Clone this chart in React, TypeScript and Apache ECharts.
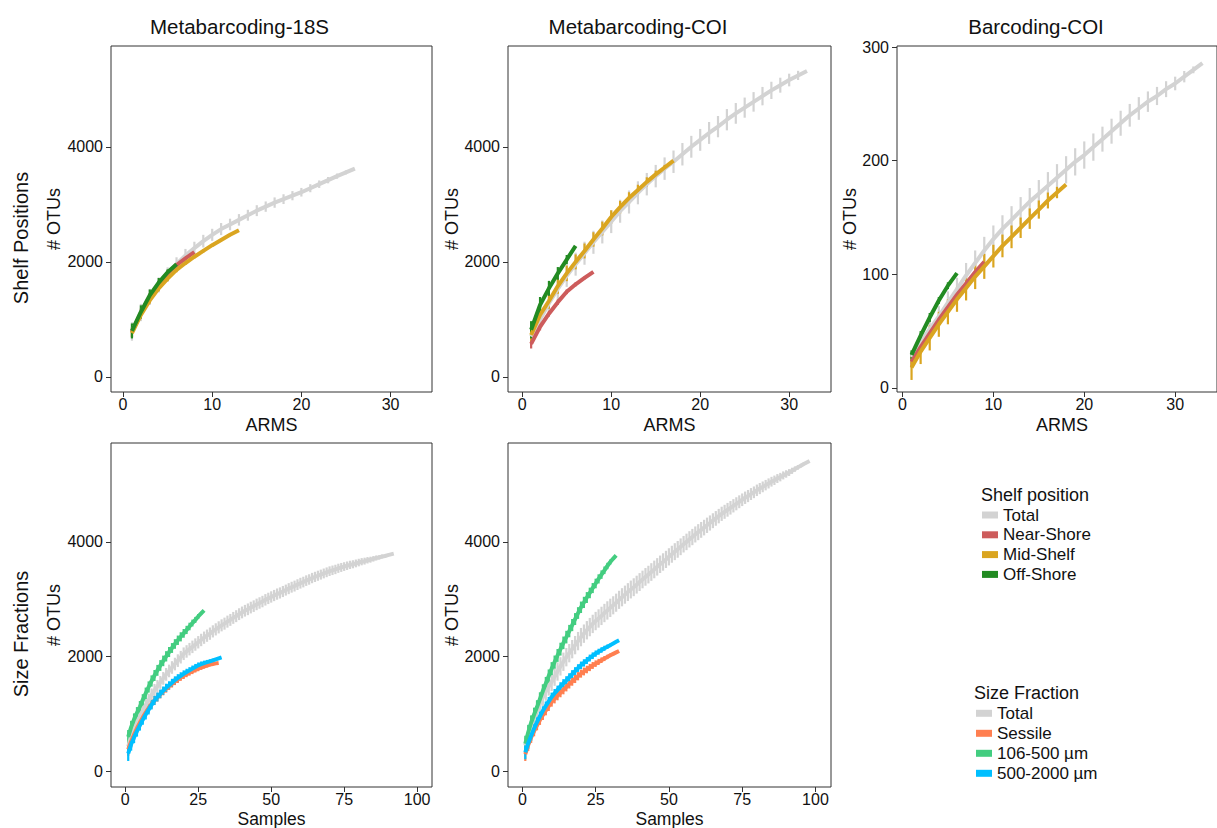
import React, { useEffect, useRef } from "react";
import * as echarts from "echarts";

// ---------- colours ----------
const C_TOTAL = "#D3D3D3";
const C_NEAR = "#CD5C5C";
const C_MID = "#DAA520";
const C_OFF = "#228B22";
const C_SESSILE = "#FF7F50";
const C_SMALL = "#43CD80";
const C_LARGE = "#00BFFF";

// ---------- labels ----------
const panelTitles = ["Metabarcoding-18S", "Metabarcoding-COI", "Barcoding-COI"];
const rowLabels = ["Shelf Positions", "Size Fractions"];
const shelfLegend = ["Total", "Near-Shore", "Mid-Shelf", "Off-Shore"];
const sizeLegend = ["Total", "Sessile", "106-500 µm", "500-2000 µm"];

// ---------- tick values ----------
const armsTicks = [0, 10, 20, 30];
const sampleTicks = [0, 25, 50, 75, 100];
const otuTicks = [0, 2000, 4000];
const barcodeTicks = [0, 100, 200, 300];

// ---------- Panel 1: Metabarcoding-18S, ARMS (x = 1..n) ----------
const total18S = [790, 1120, 1390, 1600, 1780, 1960, 2110, 2240, 2360, 2470, 2570, 2650, 2730, 2810, 2890, 2960, 3030, 3090, 3150, 3210, 3280, 3350, 3420, 3490, 3555, 3620];
const total18SErr = [160, 150, 140, 130, 125, 120, 115, 110, 110, 105, 105, 100, 100, 95, 95, 90, 90, 85, 80, 75, 70, 65, 55, 45, 35, 0];
const near18S = [780, 1110, 1390, 1610, 1800, 1945, 2060, 2170];
const near18SErr = [90, 80, 70, 60, 50, 40, 25, 0];
const mid18S = [760, 1080, 1330, 1540, 1710, 1860, 1980, 2090, 2190, 2290, 2380, 2470, 2550];
const mid18SErr = [70, 60, 55, 50, 45, 40, 35, 30, 28, 25, 20, 15, 0];
const off18S = [800, 1130, 1420, 1640, 1820, 1960];
const off18SErr = [130, 115, 100, 80, 50, 0];

// ---------- Panel 2: Metabarcoding-COI, ARMS ----------
const totalCOI = [700, 1000, 1280, 1530, 1760, 1960, 2150, 2340, 2520, 2700, 2880, 3040, 3200, 3350, 3490, 3620, 3740, 3870, 4000, 4120, 4240, 4350, 4470, 4580, 4680, 4780, 4880, 4980, 5070, 5160, 5240, 5316];
const totalCOIErr = [150, 170, 180, 190, 195, 200, 200, 200, 200, 200, 200, 200, 200, 195, 195, 195, 195, 195, 190, 190, 190, 185, 185, 180, 175, 170, 160, 150, 130, 110, 80, 0];
const nearCOI = [575, 870, 1100, 1300, 1480, 1610, 1720, 1826];
const nearCOIErr = [80, 60, 50, 45, 40, 35, 25, 0];
const midCOI = [730, 1080, 1320, 1580, 1800, 2000, 2190, 2390, 2580, 2780, 2950, 3110, 3250, 3390, 3520, 3640, 3760];
const midCOIErr = [120, 130, 135, 135, 135, 130, 130, 125, 120, 115, 110, 100, 90, 80, 65, 45, 0];
const offCOI = [820, 1250, 1540, 1800, 2040, 2278];
const offCOIErr = [150, 140, 130, 110, 80, 0];

// ---------- Panel 3: Barcoding-COI, ARMS ----------
const totalBar = [27, 40, 52, 63, 75, 87, 99, 110, 121, 131, 140, 148, 156, 164, 171, 178, 185, 192, 199, 205, 212, 219, 226, 233, 240, 246, 252, 257, 263, 268, 274, 280, 286];
const totalBarErr = [6, 7, 8, 9, 10, 10, 11, 11, 12, 12, 12, 12, 12, 12, 12, 12, 12, 12, 12, 12, 12, 11, 11, 11, 10, 10, 9, 8, 7, 6, 5, 3, 0];
const nearBar = [23, 36, 48, 60, 71, 82, 92, 102, 111];
const nearBarErr = [5, 5, 4, 4, 4, 3, 3, 2, 0];
const midBar = [18, 32, 44, 56, 67, 78, 88, 98, 107, 116, 125, 133, 141, 149, 157, 165, 172, 179];
const midBarErr = [11, 11, 11, 11, 11, 11, 11, 11, 11, 10, 10, 10, 9, 9, 8, 7, 5, 0];
const offBar = [29, 46, 62, 77, 90, 101];
const offBarErr = [4, 4, 4, 3, 3, 0];

// ---------- Panel 4: Metabarcoding-18S, Samples ----------
const sTotal18S = [430, 610, 740, 860, 960, 1060, 1150, 1240, 1330, 1410, 1480, 1550, 1620, 1690, 1750, 1810, 1870, 1930, 1990, 2050, 2090, 2130, 2170, 2210, 2250, 2290, 2330, 2365, 2400, 2440, 2475, 2510, 2545, 2575, 2610, 2640, 2675, 2705, 2740, 2770, 2800, 2825, 2855, 2880, 2910, 2935, 2960, 2990, 3015, 3040, 3065, 3090, 3110, 3135, 3160, 3185, 3210, 3230, 3255, 3280, 3300, 3325, 3345, 3370, 3390, 3410, 3430, 3450, 3470, 3490, 3505, 3520, 3540, 3555, 3570, 3585, 3600, 3610, 3625, 3640, 3655, 3665, 3680, 3690, 3705, 3720, 3730, 3745, 3755, 3770, 3783, 3796];
const sTotal18SErr = [150, 140, 130, 125, 120, 118, 116, 115, 114, 113, 112, 112, 111, 111, 110, 110, 110, 110, 110, 110, 109, 109, 109, 108, 108, 108, 107, 107, 107, 106, 106, 106, 105, 105, 105, 104, 104, 104, 103, 103, 102, 102, 102, 101, 101, 100, 100, 100, 99, 99, 98, 98, 97, 97, 96, 96, 95, 95, 94, 94, 93, 92, 91, 90, 89, 88, 87, 86, 85, 84, 83, 82, 80, 78, 76, 74, 72, 70, 68, 66, 63, 60, 56, 52, 48, 44, 39, 34, 28, 21, 12, 0];
const sSessile18S = [380, 520, 640, 750, 850, 940, 1025, 1100, 1170, 1235, 1290, 1345, 1395, 1440, 1485, 1525, 1565, 1600, 1635, 1665, 1695, 1720, 1745, 1770, 1790, 1810, 1828, 1845, 1860, 1872, 1882, 1889];
const sSessile18SErr = [110, 100, 95, 90, 86, 84, 82, 80, 78, 76, 74, 72, 70, 68, 66, 64, 62, 60, 58, 56, 54, 52, 50, 48, 45, 42, 38, 34, 29, 22, 13, 0];
const sSmall18S = [600, 770, 905, 1020, 1125, 1245, 1360, 1470, 1575, 1670, 1760, 1845, 1925, 2005, 2080, 2150, 2220, 2285, 2345, 2405, 2465, 2525, 2585, 2640, 2700, 2755, 2807];
const sSmall18SErr = [120, 110, 105, 100, 100, 100, 100, 98, 98, 96, 95, 94, 92, 90, 88, 86, 84, 82, 80, 76, 72, 66, 60, 52, 42, 28, 0];
const sLarge18S = [310, 470, 590, 700, 800, 900, 990, 1075, 1160, 1235, 1295, 1350, 1405, 1455, 1500, 1545, 1590, 1630, 1665, 1700, 1730, 1760, 1790, 1820, 1848, 1868, 1885, 1902, 1918, 1935, 1952, 1968, 1985];
const sLarge18SErr = [130, 110, 100, 95, 90, 88, 86, 84, 82, 80, 78, 76, 74, 72, 70, 68, 66, 64, 62, 60, 58, 56, 54, 52, 50, 47, 44, 40, 35, 29, 22, 13, 0];

// ---------- Panel 5: Metabarcoding-COI, Samples ----------
const sTotalCOI = [450, 650, 810, 940, 1060, 1180, 1290, 1390, 1480, 1560, 1650, 1740, 1830, 1910, 1990, 2060, 2130, 2200, 2270, 2340, 2400, 2460, 2515, 2570, 2620, 2665, 2710, 2760, 2805, 2850, 2895, 2940, 2990, 3035, 3080, 3125, 3170, 3210, 3255, 3300, 3345, 3390, 3430, 3475, 3520, 3565, 3610, 3650, 3695, 3740, 3785, 3830, 3870, 3915, 3960, 4000, 4045, 4085, 4130, 4170, 4210, 4250, 4290, 4330, 4370, 4410, 4450, 4490, 4525, 4560, 4595, 4630, 4665, 4700, 4735, 4770, 4800, 4835, 4865, 4900, 4930, 4960, 4990, 5020, 5050, 5075, 5105, 5130, 5160, 5185, 5210, 5240, 5270, 5300, 5330, 5360, 5385, 5411];
const sTotalCOIErr = [140, 150, 155, 160, 160, 160, 160, 160, 160, 160, 160, 160, 160, 160, 160, 160, 160, 160, 160, 160, 160, 160, 160, 160, 160, 160, 160, 160, 160, 160, 158, 158, 158, 158, 158, 156, 156, 156, 156, 156, 154, 154, 154, 154, 154, 152, 152, 152, 150, 150, 148, 148, 146, 146, 144, 144, 142, 142, 140, 140, 138, 136, 134, 132, 130, 128, 126, 124, 122, 120, 118, 116, 114, 112, 110, 108, 106, 104, 102, 100, 97, 94, 91, 88, 85, 82, 78, 74, 70, 65, 60, 54, 47, 40, 32, 23, 12, 0];
const sSessileCOI = [300, 460, 590, 700, 802, 895, 980, 1060, 1135, 1209, 1265, 1318, 1370, 1420, 1470, 1520, 1567, 1613, 1658, 1703, 1740, 1775, 1810, 1845, 1877, 1907, 1937, 1966, 1995, 2023, 2048, 2073, 2098];
const sSessileCOIErr = [120, 105, 95, 90, 88, 86, 85, 84, 83, 82, 81, 80, 79, 78, 77, 76, 75, 74, 72, 70, 68, 66, 63, 60, 57, 53, 49, 44, 38, 31, 23, 13, 0];
const sSmallCOI = [480, 680, 850, 990, 1120, 1260, 1400, 1530, 1660, 1790, 1905, 2020, 2130, 2240, 2340, 2445, 2550, 2655, 2760, 2860, 2945, 3030, 3110, 3195, 3275, 3355, 3430, 3505, 3580, 3650, 3710, 3766];
const sSmallCOIErr = [140, 130, 125, 120, 120, 118, 118, 116, 116, 114, 114, 112, 112, 110, 110, 108, 106, 104, 102, 100, 98, 95, 92, 88, 84, 80, 74, 66, 56, 44, 28, 0];
const sLargeCOI = [330, 490, 620, 745, 860, 960, 1055, 1140, 1220, 1296, 1360, 1420, 1480, 1535, 1587, 1640, 1695, 1748, 1800, 1848, 1890, 1932, 1975, 2015, 2052, 2085, 2115, 2145, 2172, 2200, 2230, 2258, 2284];
const sLargeCOIErr = [120, 100, 90, 85, 82, 80, 78, 78, 76, 76, 75, 74, 73, 72, 71, 70, 69, 68, 67, 66, 64, 62, 60, 58, 55, 52, 48, 44, 38, 31, 23, 13, 0];

const FONT = '"Liberation Sans", Arial, Helvetica, sans-serif';

function curve(panel: number, name: string, mean: number[], err: number[], color: string, barW: number) {
  const pts = mean.map((v, i) => [i + 1, v]);
  const bars = mean.map((v, i) => [i + 1, v - err[i], v + err[i]]);
  return [
    {
      type: "custom",
      name,
      xAxisIndex: panel,
      yAxisIndex: panel,
      data: bars,
      encode: { x: 0, y: [1, 2] },
      silent: true,
      renderItem: (_p: any, api: any) => {
        const a = api.coord([api.value(0), api.value(1)]);
        const b = api.coord([api.value(0), api.value(2)]);
        return {
          type: "line",
          shape: { x1: a[0], y1: a[1], x2: b[0], y2: b[1] },
          style: { stroke: color, lineWidth: barW },
        };
      },
    },
    {
      type: "line",
      name,
      xAxisIndex: panel,
      yAxisIndex: panel,
      data: pts,
      symbol: "none",
      showSymbol: false,
      silent: true,
      lineStyle: { color, width: 4, join: "round" },
      itemStyle: { color },
    },
  ];
}

const plain = (v: number) => String(v);

function xAxis(grid: number, min: number, max: number, ticks: number[]) {
  return {
    type: "value",
    gridIndex: grid,
    position: "bottom",
    min,
    max,
    axisLine: { show: false, onZero: false },
    splitLine: { show: false },
    axisTick: { show: true, length: 5, customValues: ticks, lineStyle: { color: "#333", width: 1 } },
    axisLabel: { customValues: ticks, formatter: plain, fontSize: 16, color: "#111", fontFamily: FONT, margin: 4 },
  };
}
function yAxis(grid: number, min: number, max: number, ticks: number[]) {
  return {
    type: "value",
    gridIndex: grid,
    position: "left",
    min,
    max,
    axisLine: { show: false, onZero: false },
    splitLine: { show: false },
    axisTick: { show: true, length: 5, customValues: ticks, lineStyle: { color: "#333", width: 1 } },
    axisLabel: { customValues: ticks, formatter: plain, fontSize: 16, color: "#111", fontFamily: FONT, margin: 8 },
  };
}

function txt(x: number, y: number, text: string, size: number, rot = 0, align = "center") {
  return {
    type: "text",
    x,
    y,
    rotation: rot,
    silent: true,
    style: { text, fontSize: size, fontFamily: FONT, fill: "#111", align, verticalAlign: "middle" },
  };
}

export default function App() {
  const ref = useRef<HTMLDivElement>(null);
  useEffect(() => {
    if (!ref.current) return;
    const chart = echarts.init(ref.current, undefined, { renderer: "svg" });
    const gridStyle = { show: true, borderColor: "#333", borderWidth: 1, backgroundColor: "#fff" };
    const series: any[] = [
      ...curve(0, shelfLegend[0], total18S, total18SErr, C_TOTAL, 2.2),
      ...curve(0, shelfLegend[1], near18S, near18SErr, C_NEAR, 2.2),
      ...curve(0, shelfLegend[2], mid18S, mid18SErr, C_MID, 2.2),
      ...curve(0, shelfLegend[3], off18S, off18SErr, C_OFF, 2.2),
      ...curve(1, shelfLegend[0], totalCOI, totalCOIErr, C_TOTAL, 2.2),
      ...curve(1, shelfLegend[1], nearCOI, nearCOIErr, C_NEAR, 2.2),
      ...curve(1, shelfLegend[2], midCOI, midCOIErr, C_MID, 2.2),
      ...curve(1, shelfLegend[3], offCOI, offCOIErr, C_OFF, 2.2),
      ...curve(2, shelfLegend[0], totalBar, totalBarErr, C_TOTAL, 2.2),
      ...curve(2, shelfLegend[1], nearBar, nearBarErr, C_NEAR, 2.2),
      ...curve(2, shelfLegend[2], midBar, midBarErr, C_MID, 2.2),
      ...curve(2, shelfLegend[3], offBar, offBarErr, C_OFF, 2.2),
      ...curve(3, sizeLegend[0], sTotal18S, sTotal18SErr, C_TOTAL, 2.2),
      ...curve(3, sizeLegend[1], sSessile18S, sSessile18SErr, C_SESSILE, 2.2),
      ...curve(3, sizeLegend[2], sSmall18S, sSmall18SErr, C_SMALL, 2.2),
      ...curve(3, sizeLegend[3], sLarge18S, sLarge18SErr, C_LARGE, 2.2),
      ...curve(4, sizeLegend[0], sTotalCOI, sTotalCOIErr, C_TOTAL, 2.2),
      ...curve(4, sizeLegend[1], sSessileCOI, sSessileCOIErr, C_SESSILE, 2.2),
      ...curve(4, sizeLegend[2], sSmallCOI, sSmallCOIErr, C_SMALL, 2.2),
      ...curve(4, sizeLegend[3], sLargeCOI, sLargeCOIErr, C_LARGE, 2.2),
    ];

    const shelfColors = [C_TOTAL, C_NEAR, C_MID, C_OFF];
    const sizeColors = [C_TOTAL, C_SESSILE, C_SMALL, C_LARGE];
    const legendEls: any[] = [txt(981, 495, "Shelf position", 18, 0, "left")];
    shelfLegend.forEach((n, i) => {
      const cy = 515 + i * 19.8;
      legendEls.push({ type: "rect", silent: true, shape: { x: 982, y: cy - 3.5, width: 16, height: 7 }, style: { fill: shelfColors[i] } });
      legendEls.push(txt(1003, cy, n, 17, 0, "left"));
    });
    legendEls.push(txt(974, 693, "Size Fraction", 18, 0, "left"));
    sizeLegend.forEach((n, i) => {
      const cy = 713.3 + i * 20;
      legendEls.push({ type: "rect", silent: true, shape: { x: 976, y: cy - 3.5, width: 16, height: 7 }, style: { fill: sizeColors[i] } });
      legendEls.push(txt(997, cy, n, 17, 0, "left"));
    });

    const R = Math.PI / 2;
    chart.setOption({
      animation: false,
      backgroundColor: "#fff",
      textStyle: { fontFamily: FONT },
      grid: [
        { left: 111, top: 46, width: 321, height: 346, ...gridStyle },
        { left: 508, top: 46, width: 323, height: 346, ...gridStyle },
        { left: 897, top: 46, width: 331, height: 346, ...gridStyle },
        { left: 111, top: 443, width: 321, height: 344, ...gridStyle },
        { left: 508, top: 443, width: 323, height: 344, ...gridStyle },
      ],
      xAxis: [
        xAxis(0, -1.35, 34.65, armsTicks),
        xAxis(1, -1.6, 34.7, armsTicks),
        xAxis(2, -0.6, 34.6, armsTicks),
        xAxis(3, -4.9, 105.1, sampleTicks),
        xAxis(4, -4.9, 105.3, sampleTicks),
      ],
      yAxis: [
        yAxis(0, -261, 5751, otuTicks),
        yAxis(1, -261, 5751, otuTicks),
        yAxis(2, -3.6, 301, barcodeTicks),
        yAxis(3, -274, 5725, otuTicks),
        yAxis(4, -274, 5725, otuTicks),
      ],
      series,
      graphic: [
        txt(239.5, 26, panelTitles[0], 20.5),
        txt(638, 26, panelTitles[1], 20.5),
        txt(1036, 26, panelTitles[2], 20.5),
        txt(21, 238, rowLabels[0], 20, R),
        txt(21, 634, rowLabels[1], 20, R),
        txt(54, 219, "# OTUs", 18, R),
        txt(452, 219, "# OTUs", 18, R),
        txt(850, 219, "# OTUs", 18, R),
        txt(54, 615, "# OTUs", 18, R),
        txt(452, 615, "# OTUs", 18, R),
        txt(271.5, 425, "ARMS", 18),
        txt(669.5, 425, "ARMS", 18),
        txt(1062, 425, "ARMS", 18),
        txt(271.5, 819, "Samples", 17.5),
        txt(669.5, 819, "Samples", 17.5),
        ...legendEls,
      ],
    });
    return () => chart.dispose();
  }, []);
  return (
    <div
      ref={ref}
      style={{ position: "absolute", left: 0, top: 0, width: 1217, height: 828, background: "#fff" }}
    />
  );
}
